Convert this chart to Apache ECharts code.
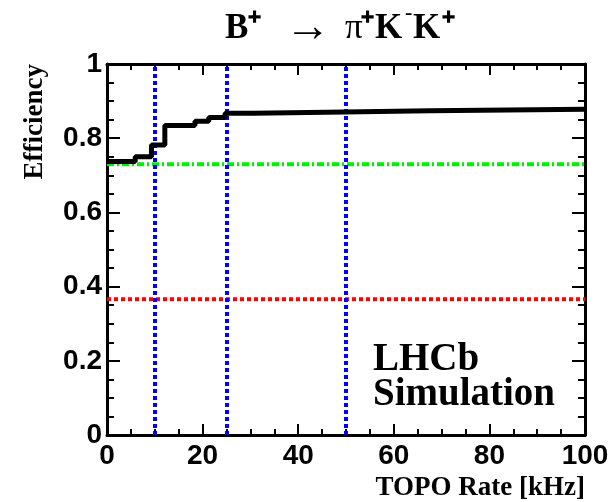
<!DOCTYPE html>
<html><head><meta charset="utf-8">
<script src="https://cdn.jsdelivr.net/npm/echarts@6/dist/echarts.min.js"></script>
<style>html,body{margin:0;padding:0;background:#fff}#c{width:615px;height:502px}</style>
</head><body><div id="c"></div>
<script>
// Step edges (TOPO rate, kHz) and efficiency level from each edge to the next
const rateEdges = [0, 5.9, 9.3, 12.1, 18.4, 21.3, 24.7, 30.5, 46, 67.6, 100];
const effValues = [0.737, 0.75, 0.782, 0.834, 0.846, 0.856, 0.867, 0.870, 0.874, 0.878, 0.878];
const refLevelHigh = 0.73;   // green dash-dot
const refLevelLow = 0.366;   // red dotted
const rateMarks = [10, 25, 50]; // blue dotted verticals
const xTicks = [0, 20, 40, 60, 80, 100];
const yTicks = [0, 0.2, 0.4, 0.6, 0.8, 1];

const chart = echarts.init(document.getElementById('c'), null, {renderer: 'canvas'});
const stepData = rateEdges.map((x, i) => [x, effValues[i]]);
const serif = '"Liberation Serif","Times New Roman",serif';
const sans = '"Liberation Sans",Arial,sans-serif';

const baseX = {
  type: 'value', min: 0, max: 100, interval: 20,
  axisLine: {show: true, onZero: false, lineStyle: {color: '#000', width: 3}},
  axisTick: {show: true, inside: true, length: 11, lineStyle: {color: '#000', width: 2}},
  minorTick: {show: true, splitNumber: 4, length: 6, lineStyle: {color: '#000', width: 2}},
  splitLine: {show: false}
};
const baseY = {
  type: 'value', min: 0, max: 1, interval: 0.2,
  axisLine: {show: true, onZero: false, lineStyle: {color: '#000', width: 3}},
  axisTick: {show: true, inside: true, length: 13, lineStyle: {color: '#000', width: 2}},
  minorTick: {show: true, splitNumber: 4, length: 7, lineStyle: {color: '#000', width: 2}},
  splitLine: {show: false}
};

function tt(text, x, y, size, bold, thick) {
  const st = {text: text, fontFamily: serif, fontWeight: bold ? 'bold' : 'normal', fontSize: size, fill: '#000', align: 'left', verticalAlign: 'middle'};
  if (thick) { st.stroke = '#000'; st.lineWidth = thick; }
  return {type: 'text', x: x, y: y, silent: true, style: st};
}

const option = {
  animation: false,
  backgroundColor: '#fff',
  grid: {left: 107, right: 30, top: 64, bottom: 67, containLabel: false, outerBoundsMode: 'none'},
  xAxis: [
    Object.assign({}, baseX, {
      position: 'bottom',
      axisLabel: {show: true, margin: 7, color: '#000', fontFamily: sans, fontWeight: 'bold', fontSize: 28,
        formatter: v => xTicks.includes(v) ? String(v) : ''},
      name: 'TOPO Rate [kHz]', nameLocation: 'end', nameGap: 0,
      nameTextStyle: {fontFamily: serif, fontWeight: 'bold', fontSize: 27, color: '#000',
        align: 'right', verticalAlign: 'top', padding: [40, 0, 0, 0]}
    }),
    Object.assign({}, baseX, {position: 'top', axisLabel: {show: false}})
  ],
  yAxis: [
    Object.assign({}, baseY, {
      position: 'left',
      axisLabel: {show: true, margin: 5, color: '#000', fontFamily: sans, fontWeight: 'bold', fontSize: 28,
        formatter: v => { const t = yTicks.find(k => Math.abs(k - v) < 1e-6); return t === undefined ? '' : (t === 0 || t === 1 ? String(t) : t.toFixed(1)); }}
    }),
    Object.assign({}, baseY, {position: 'right', axisLabel: {show: false}})
  ],
  series: [
    {
      type: 'line', name: 'eff', data: stepData, step: 'end', showSymbol: false, symbol: 'none',
      lineStyle: {color: '#000', width: 5}, z: 5,
      markLine: {
        silent: true, symbol: 'none', label: {show: false},
        lineStyle: {color: '#0000ff', width: 4, type: [4, 3]},
        data: rateMarks.map(v => ({xAxis: v}))
      }
    },
    {
      type: 'line', name: 'high', data: [[0, refLevelHigh], [100, refLevelHigh]], showSymbol: false, symbol: 'none',
      lineStyle: {color: '#00ee00', width: 4, type: [7, 3, 2, 3]}, z: 4
    },
    {
      type: 'line', name: 'low', data: [[0, refLevelLow], [100, refLevelLow]], showSymbol: false, symbol: 'none',
      lineStyle: {color: '#ff0000', width: 4, type: [4, 3]}, z: 4
    }
  ],
  graphic: [
    tt('B', 225, 28.5, 35, true),
    tt('+', 248, 18, 23, true, 1.5),
    tt('→', 285, 29, 46, false),
    tt('π', 345, 28.5, 35, false),
    tt('+', 361, 18, 23, true, 1.5),
    tt('K', 375, 28.5, 35, true),
    tt('-', 405, 13, 22, true),
    tt('K', 413, 28.5, 35, true),
    tt('+', 442, 18, 23, true, 1.5),
    {type: 'text', x: 35, y: 64, rotation: Math.PI / 2,
      style: {text: 'Efficiency', fontFamily: serif, fontWeight: 'bold', fontSize: 27, fill: '#000', align: 'right', verticalAlign: 'middle'}},
    {type: 'text', left: 373, top: 340, style: {text: 'LHCb', fontFamily: serif, fontWeight: 'bold', fontSize: 39, fill: '#000'}},
    {type: 'text', left: 373, top: 375, style: {text: 'Simulation', fontFamily: serif, fontWeight: 'bold', fontSize: 39, fill: '#000'}}
  ]
};
chart.setOption(option);
</script></body></html>
